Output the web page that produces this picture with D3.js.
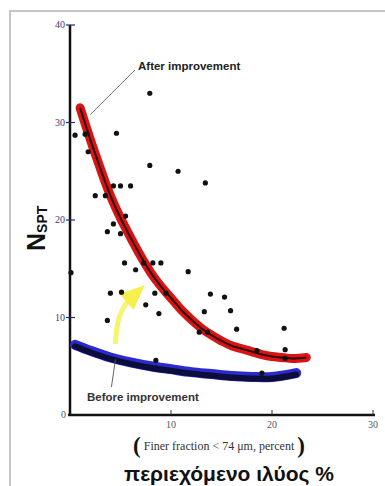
<!DOCTYPE html>
<html><head><meta charset="utf-8">
<script src="https://cdn.jsdelivr.net/npm/d3@7/dist/d3.min.js"></script>
<style>html,body{margin:0;padding:0;background:#fff;}svg{display:block;}</style>
</head><body>
<script>
// ---- data ----
const xTicks = [10, 20, 30];
const yTicks = [10, 20, 30, 40];
const pointsX = [0.1,0.5,1.5,1.8,4.6,7.9,7.9,10.7,13.4,2.5,3.5,4.3,5.0,6.0,4.3,3.7,5.0,5.5,5.4,6.5,7.3,8.2,9.0,11.7,4.0,5.1,8.4,9.5,7.5,8.8,3.7,13.9,15.3,13.3,15.9,12.8,13.6,16.5,21.2,18.5,21.3,21.3,8.5,19.0];
const pointsY = [14.6,28.7,28.8,27.0,28.9,33.0,25.6,25.0,23.8,22.5,22.5,23.5,23.5,23.5,19.6,18.8,18.6,20.4,15.6,14.9,15.6,15.6,15.6,14.7,12.5,12.6,12.5,12.5,11.3,10.4,9.7,12.4,12.1,10.6,10.7,8.5,8.5,8.8,8.9,6.6,6.7,5.8,5.6,4.3];
const afterX = [1.0,2,3,4,5,6,7,8,9,10,11,12,13,14,15,16,17,18,19,20,21,22,23.4];
const afterY = [31.5,28.3,25.3,22.5,20.2,18.2,16.3,14.6,13.2,12.0,10.8,9.8,8.9,8.2,7.6,7.1,6.8,6.5,6.2,6.0,5.9,5.8,5.9];
const beforeX = [0.5,2,4,6,8,10,12,14,16,18,20,22.4];
const beforeY = [7.2,6.6,5.9,5.4,5.0,4.7,4.4,4.2,4.0,3.9,3.9,4.3];
const arrowX = [4.5,4.6,5.0,5.8,6.7];
const arrowY = [7.3,9.0,10.6,11.8,12.6];
const labelAfter = "After improvement";
const labelBefore = "Before improvement";
const xTitle = "Finer fraction < 74 μm, percent";
const xTitleGr = "περιεχόμενο ιλύος %";

const W = 385, H = 486;
const svg = d3.select("body").append("svg").attr("width", W).attr("height", H);

// frame
svg.append("rect").attr("x", 10).attr("y", 11).attr("width", 390).attr("height", 500)
  .attr("fill", "#fff").attr("stroke", "#c6c6c6").attr("stroke-width", 2);

const x = d3.scaleLinear().domain([0, 30]).range([70, 373]);
const y = d3.scaleLinear().domain([0, 40]).range([415, 25]);

// axes lines
svg.append("line").attr("x1", x(0)).attr("x2", x(0)).attr("y1", y(40)).attr("y2", y(0))
  .attr("stroke", "#111").attr("stroke-width", 2.5);
svg.append("line").attr("x1", x(0)-2).attr("x2", x(30)+2).attr("y1", y(0)).attr("y2", y(0))
  .attr("stroke", "#111").attr("stroke-width", 2.5);

// y ticks
const yg = svg.append("g");
yTicks.forEach(t => {
  yg.append("line").attr("x1", x(0)-4).attr("x2", x(0)+5).attr("y1", y(t)).attr("y2", y(t))
    .attr("stroke", "#2a2a6a").attr("stroke-width", 1.2);
  yg.append("text").attr("x", x(0)-5).attr("y", y(t)+3).attr("text-anchor", "end")
    .attr("font-family", "Liberation Serif, serif").attr("font-size", 10).attr("fill", "#3a3a85").text(t);
});
yg.append("text").attr("x", x(0)-4).attr("y", y(0)+3).attr("text-anchor", "end")
  .attr("font-family", "Liberation Serif, serif").attr("font-size", 10).attr("fill", "#555").text("0");

// x ticks
xTicks.forEach(t => {
  svg.append("line").attr("x1", x(t)).attr("x2", x(t)).attr("y1", y(0)-5).attr("y2", y(0))
    .attr("stroke", "#333").attr("stroke-width", 1);
  svg.append("text").attr("x", x(t)).attr("y", y(0)+13).attr("text-anchor", "middle")
    .attr("font-family", "Liberation Serif, serif").attr("font-size", 10).attr("fill", "#555").text(t);
});

const line = d3.line().x(d => x(d[0])).y(d => y(d[1])).curve(d3.curveCatmullRom);

// before curve (blue with black core)
const beforeData = beforeX.map((v, i) => [v, beforeY[i]]);
svg.append("path").attr("d", line(beforeData)).attr("fill", "none")
  .attr("stroke", "#2a2ad0").attr("stroke-width", 10).attr("stroke-linecap", "round");
svg.append("path").attr("d", line(beforeData.map(d => [d[0], d[1] - 0.15]))).attr("fill", "none")
  .attr("stroke", "#080820").attr("stroke-width", 6).attr("stroke-linecap", "round").attr("opacity", 0.85);

// after curve (red with black core)
const afterData = afterX.map((v, i) => [v, afterY[i]]);
svg.append("path").attr("d", line(afterData)).attr("fill", "none")
  .attr("stroke", "#d81414").attr("stroke-width", 9).attr("stroke-linecap", "round");
svg.append("path").attr("d", line(afterData)).attr("fill", "none")
  .attr("stroke", "#300").attr("stroke-width", 2);

// yellow arrow
const arrowData = arrowX.map((v, i) => [v, arrowY[i]]);
svg.append("path").attr("d", d3.line().x(d => x(d[0])).y(d => y(d[1])).curve(d3.curveBasis)(arrowData.slice(0, 4)))
  .attr("fill", "none").attr("stroke", "#f7f46e").attr("stroke-width", 5);
{
  const p = arrowData[arrowData.length - 1];
  const tipX = x(p[0]) + 7, tipY = y(p[1]) - 7;
  const bx = x(arrowData[3][0]), by = y(arrowData[3][1]);
  svg.append("path").attr("d", `M${tipX},${tipY} L${bx-9},${by-6} L${bx+5},${by+10} Z`)
    .attr("fill", "#f5f04c");
}

// points
svg.append("g").selectAll("circle").data(pointsX.map((v, i) => [v, pointsY[i]])).join("circle")
  .attr("cx", d => x(d[0])).attr("cy", d => y(d[1])).attr("r", 2.6).attr("fill", "#111");

// annotations
svg.append("line").attr("x1", x(2.0)).attr("y1", y(30.8)).attr("x2", 135).attr("y2", 70)
  .attr("stroke", "#666").attr("stroke-width", 0.9);
svg.append("text").attr("x", 138).attr("y", 70).attr("font-family", "Liberation Sans, Arial, sans-serif")
  .attr("font-weight", "bold").attr("font-size", 11.5).attr("fill", "#222").text(labelAfter);
svg.append("line").attr("x1", x(4.5)).attr("y1", y(5.7)).attr("x2", x(4.1)).attr("y2", 387)
  .attr("stroke", "#555").attr("stroke-width", 0.9);
svg.append("text").attr("x", 87).attr("y", 401).attr("font-family", "Liberation Sans, Arial, sans-serif")
  .attr("font-weight", "bold").attr("font-size", 11.5).attr("fill", "#333").text(labelBefore);

// y title
const yt = svg.append("text").attr("transform", "translate(45,251) rotate(-90)")
  .attr("font-family", "Liberation Sans, Arial, sans-serif").attr("font-weight", "bold").attr("fill", "#111");
yt.append("tspan").attr("font-size", 25).text("N");
yt.append("tspan").attr("font-size", 14).attr("dy", 2).text("SPT");

// x titles
const xt = svg.append("text").attr("x", 219).attr("y", 450).attr("text-anchor", "middle")
  .attr("font-family", "Liberation Serif, serif").attr("fill", "#333");
xt.append("tspan").attr("font-size", 23).attr("font-weight", "bold").attr("fill", "#111").attr("dy", 3).text("(");
xt.append("tspan").attr("font-size", 12).attr("dy", -3).text(" " + xTitle + " ");
xt.append("tspan").attr("font-size", 23).attr("font-weight", "bold").attr("fill", "#111").attr("dy", 3).text(")");
svg.append("text").attr("x", 229).attr("y", 481).attr("text-anchor", "middle")
  .attr("font-family", "Liberation Sans, Arial, sans-serif").attr("font-weight", "bold")
  .attr("font-size", 21).attr("fill", "#111").text(xTitleGr);
</script>
</body></html>
